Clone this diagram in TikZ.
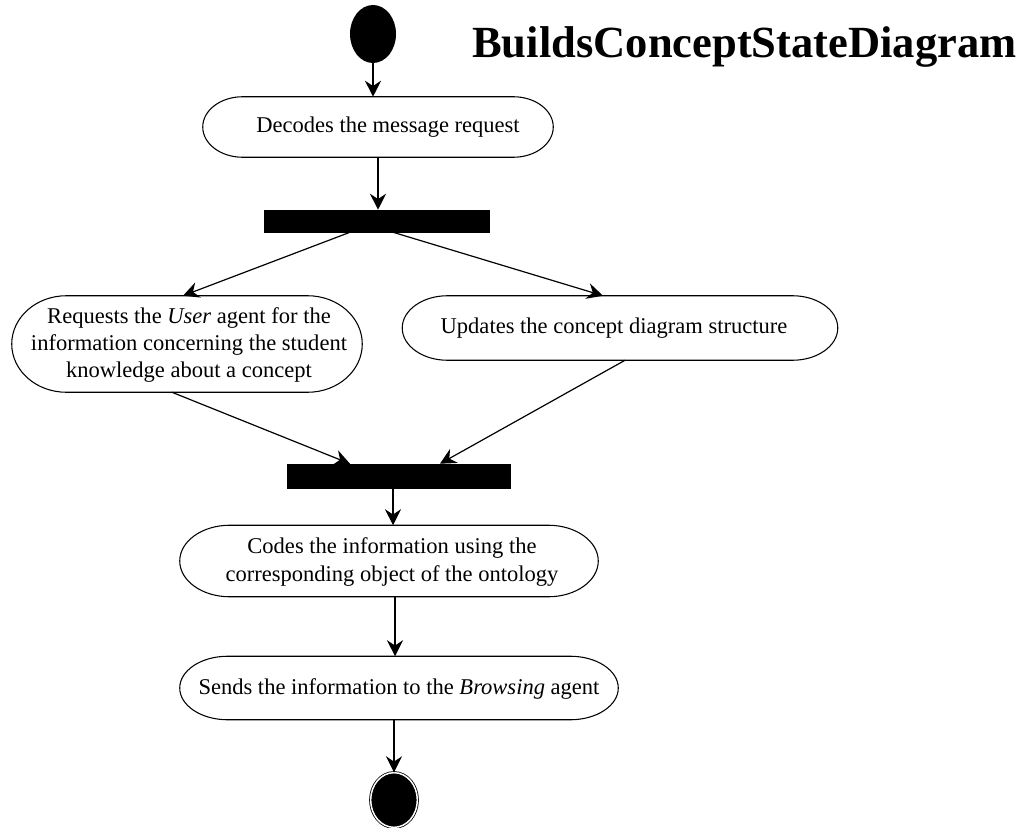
\documentclass[tikz,border=0pt]{standalone}
\usepackage{fontspec}
\setmainfont{Liberation Serif}
\usetikzlibrary{arrows.meta,calc,shapes.geometric}

% outline of an activity state: straight top and bottom, elliptical ends
\newcommand{\actoutline}[2]{%
  \draw[actline] let \p1=(#1.north west), \p2=(#1.south east),
        \n1={(\y1-\y2)/2} in
    (\x1+#2,\y1) -- (\x2-#2,\y1)
    arc[start angle=90, end angle=-90, x radius=#2, y radius=\n1]
    -- (\x1+#2,\y2)
    arc[start angle=270, end angle=90, x radius=#2, y radius=\n1] -- cycle;}

\begin{document}
\begin{tikzpicture}[x=0.75pt, y=-0.75pt,
  actline/.style={draw=black, line width=0.8pt},
  acttext/.style={draw=none, align=center, inner sep=0pt,
    font=\fontsize{16.9}{20.4}\selectfont},
  syncbar/.style={rectangle, fill=black, draw=black, inner sep=0pt},
  flow/.style={draw=black, line width=0.9pt,
    -{Stealth[length=12pt, width=12pt, inset=4pt]}},
  title/.style={font=\fontsize{33.4}{38}\selectfont\bfseries, inner sep=0pt, anchor=base west}]

\useasboundingbox (0,0) rectangle (1023,827);

% initial and final states
\node[ellipse, fill=black, minimum width=34.5pt, minimum height=43.5pt, inner sep=0pt] (start) at (373,34) {};
\node[ellipse, fill=black, draw=black, double=white, double distance=1.1pt, line width=0.6pt,
      minimum width=35pt, minimum height=41pt, inner sep=0pt] (stop) at (394,800) {};

% diagram title
\node[title] (ttl) at (472,58) {BuildsConceptStateDiagram};

% activity states (outline drawn around an unframed text node)
\node[acttext, minimum width=262.5pt, minimum height=45pt] (dec) at (378,127) {};
\node[acttext] (dect) at (388,127) {Decodes the message request};
\actoutline{dec}{30pt}

\node[acttext, minimum width=262.5pt, minimum height=72pt] (req) at (187,344) {};
\node[acttext] (reqt) at (189,345)
  {Requests the \textit{User} agent for the\\information concerning the student\\knowledge about a concept};
\actoutline{req}{41pt}

\node[acttext, minimum width=326.25pt, minimum height=48pt] (upd) at (620,328) {};
\node[acttext] (updt) at (614,328) {Updates the concept diagram structure};
\actoutline{upd}{34pt}

\node[acttext, minimum width=313.5pt, minimum height=53.25pt] (cod) at (389,561) {};
\node[acttext] (codt) at (392,562)
  {Codes the information using the\\corresponding object of the ontology};
\actoutline{cod}{37.5pt}

\node[acttext, minimum width=328.5pt, minimum height=47.25pt] (snd) at (399,688) {};
\node[acttext] (sndt) at (399,689)
  {Sends the information to the \textit{Browsing} agent};
\actoutline{snd}{36pt}

% fork and join bars
\node[syncbar, minimum width=168.75pt, minimum height=16.5pt] (fork) at (376.5,221) {};
\node[syncbar, minimum width=167.25pt, minimum height=18pt] (join) at (398.5,476) {};

% transitions
\draw[flow] (start.south) -- (start.south |- dec.north);
\draw[flow] (dec.south) -- (dec.south |- fork.north);
\draw[flow] ([xshift=-19.9pt]fork.south) -- ([xshift=-3pt]req.north);
\draw[flow] ([xshift=12.4pt]fork.south) -- ([xshift=-12.75pt]upd.north);
\draw[flow] ([xshift=-11.25pt]req.south) -- ([xshift=-36.4pt]join.north);
\draw[flow] ([xshift=3.75pt]upd.south) -- ([xshift=31.1pt]join.north);
\draw[flow] ([xshift=3pt]cod.north |- join.south) -- ([xshift=3pt]cod.north);
\draw[flow] ([xshift=4.5pt]cod.south) -- ([xshift=4.5pt]cod.south |- snd.north);
\draw[flow] (stop.north |- snd.south) -- (stop.north);

\end{tikzpicture}
\end{document}
